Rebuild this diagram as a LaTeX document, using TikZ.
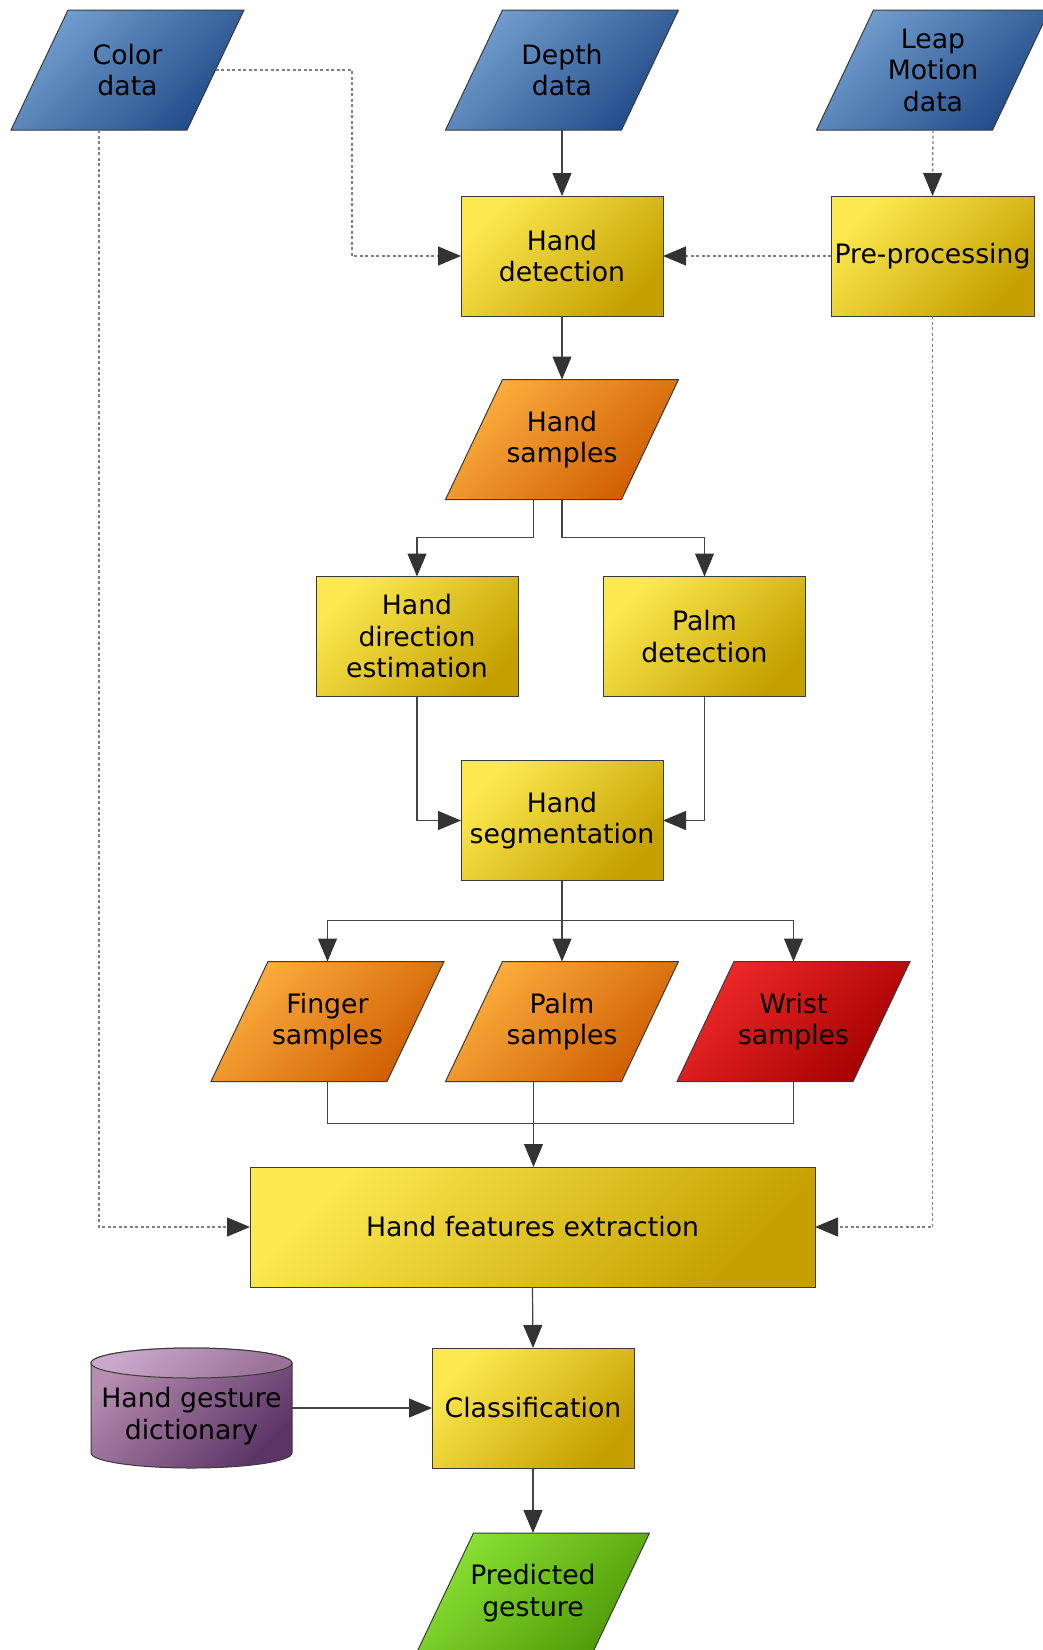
\documentclass[tikz,border=0pt]{standalone}
\usepackage{fontspec}
\setmainfont{DejaVu Sans}
\usetikzlibrary{arrows.meta,backgrounds,calc}
\definecolor{bordercol}{HTML}{3A3A3A}
\definecolor{linecol}{HTML}{444444}
\definecolor{dotcol}{HTML}{808080}
\definecolor{tipcol}{HTML}{333333}
\definecolor{ylight}{HTML}{FCE94F}
\definecolor{ydark}{HTML}{C4A000}
\definecolor{blight}{HTML}{729FCF}
\definecolor{bdark}{HTML}{204A87}
\definecolor{olight}{HTML}{FCAF3E}
\definecolor{odark}{HTML}{CE5C00}
\definecolor{rlight}{HTML}{EF2929}
\definecolor{rdark}{HTML}{A40000}
\definecolor{glight}{HTML}{8AE234}
\definecolor{gdark}{HTML}{4E9A06}
\definecolor{plight}{HTML}{B58DB0}
\definecolor{pdark}{HTML}{5C3566}
\definecolor{plidl}{HTML}{CBA8CB}
\definecolor{plidd}{HTML}{9A7299}
\tikzset{
  txt/.style={font=\fontsize{26.7}{31.5}\selectfont, align=center, text=black, inner sep=0pt, outer sep=0pt},
  procbox/.style={txt, rectangle, draw=bordercol, line width=1pt, minimum width=202pt, minimum height=120pt, top color=ylight, bottom color=ydark, shading angle=45},
  parabox/.style={txt, rectangle, minimum width=233pt, minimum height=120pt},
  tipstyle/.style={-{Triangle[length=23pt,width=19pt,color=tipcol]}},
  flow/.style={draw=linecol, line width=1.2pt, tipstyle},
  plainflow/.style={draw=linecol, line width=1.2pt},
  dotflow/.style={draw=dotcol, line width=1.3pt, dash pattern=on 3pt off 2.5pt, tipstyle},
  shapefill/.style={draw=bordercol, line width=1pt}
}
\newcommand\paraFill[3]{%
  \path[shapefill, top color=#2, bottom color=#3, shading angle=45]
    ($(#1.north west)+(57,0)$) -- (#1.north east) -- ($(#1.south east)+(-57,0)$) -- (#1.south west) -- cycle;}
\begin{document}
\begin{tikzpicture}[x=1pt,y=-1pt]
\begin{pgfonlayer}{background}
\fill[white] (0,0) rectangle (1043,1650);
\end{pgfonlayer}
\useasboundingbox (0,0) rectangle (1043,1650);

\node[parabox] (color) at (127.5,70) {Color\\data};
\node[parabox] (depth) at (562,70) {Depth\\data};
\node[parabox] (leap) at (933,70) {Leap\\Motion\\data};
\node[procbox] (hd) at (562,256) {Hand\\detection};
\node[procbox, minimum width=203pt] (pre) at (932.5,256) {Pre-processing};
\node[parabox] (hs) at (562,439.5) {Hand\\samples};
\node[procbox] (hde) at (417,636.5) {Hand\\direction\\estimation};
\node[procbox] (pd) at (704.5,636.5) {Palm\\detection};
\node[procbox] (seg) at (562,820.5) {Hand\\segmentation};
\node[parabox] (finger) at (327.5,1021.5) {Finger\\samples};
\node[parabox] (palm) at (562,1021.5) {Palm\\samples};
\node[parabox] (wrist) at (793.5,1021.5) {Wrist\\samples};
\node[procbox, minimum width=565pt] (hfe) at (532.5,1227) {Hand features extraction};
\node[procbox] (cls) at (533,1408) {Classification};
\node[txt, minimum width=201pt] (dict) at (191.5,1416) {Hand gesture\\dictionary};
\node[parabox] (pred) at (533,1593) {Predicted\\gesture};

\begin{pgfonlayer}{background}
\paraFill{color}{blight}{bdark}
\paraFill{depth}{blight}{bdark}
\paraFill{leap}{blight}{bdark}
\paraFill{hs}{olight}{odark}
\paraFill{finger}{olight}{odark}
\paraFill{palm}{olight}{odark}
\paraFill{wrist}{rlight}{rdark}
\paraFill{pred}{glight}{gdark}
\path[shapefill, top color=plight, bottom color=pdark, shading angle=45]
  ($(dict.center)+(-100.5,-53)$) -- ($(dict.center)+(-100.5,37)$)
  arc[start angle=180, end angle=360, x radius=100.5pt, y radius=15pt]
  -- ($(dict.center)+(100.5,-53)$)
  arc[start angle=0, end angle=180, x radius=100.5pt, y radius=15pt] -- cycle;
\path[shapefill, top color=plidl, bottom color=plidd, shading angle=45]
  ($(dict.center)+(0,-53)$) ellipse[x radius=100.5pt, y radius=15pt];
\end{pgfonlayer}

\draw[dotflow] ($(color.east)+(-28.5,0)$) -| ($(hd.west)+(-109,0)$) -- (hd.west);
\draw[dotflow] ($(color.south west)+(88,0)$) |- (hfe.west);
\draw[flow] (depth.south) -- (hd.north);
\draw[dotflow] (leap.south) -- (pre.north);
\draw[dotflow] (pre.west) -- (hd.east);
\draw[dotflow] (pre.south) |- (hfe.east);
\draw[flow] (hd.south) -- (hs.north);
\draw[flow] ($(hs.south west)+(88,0)$) -- ++(0,38) -| (hde.north);
\draw[flow] (hs.south) -- ++(0,38) -| (pd.north);
\draw[flow] (hde.south) |- (seg.west);
\draw[flow] (pd.south) |- (seg.east);
\draw[flow] (seg.south) -- ++(0,40) -| (finger.north);
\draw[flow] (seg.south) -- (palm.north);
\draw[flow] (seg.south) -- ++(0,40) -| (wrist.north);
\coordinate (join) at ($(palm.south west)+(88,42)$);
\draw[plainflow] (finger.south) |- (join);
\draw[plainflow] (wrist.south) |- (join);
\draw[flow] ($(palm.south west)+(88,0)$) -- (join |- hfe.north);
\draw[flow] (hfe.south) -- (cls.north);
\draw[flow] (dict.east |- cls.west) -- (cls.west);
\draw[flow] (cls.south) -- (pred.north);
\end{tikzpicture}
\end{document}
